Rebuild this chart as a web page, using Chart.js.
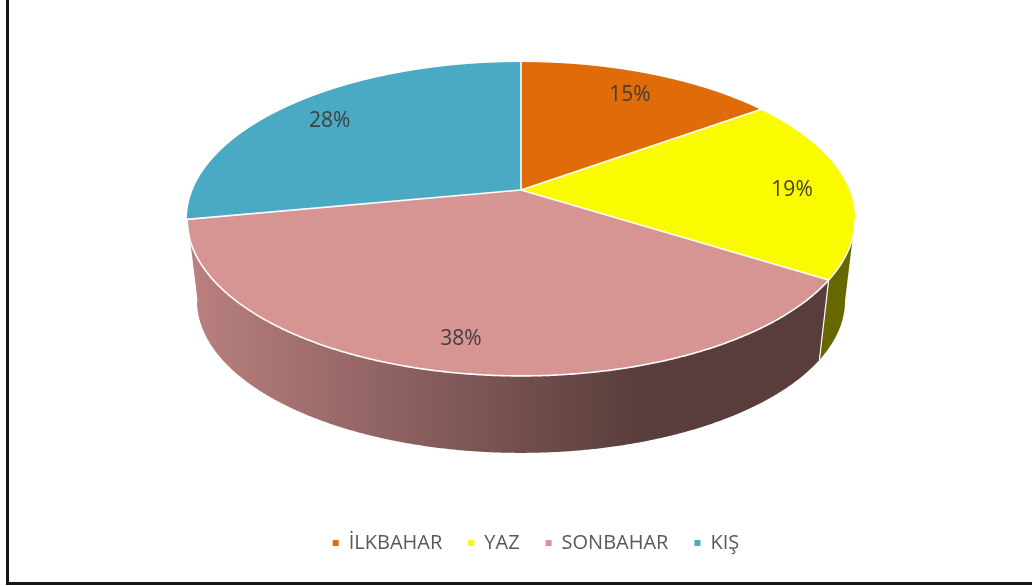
<!DOCTYPE html>
<html><head><meta charset="utf-8">
<script src="https://cdn.jsdelivr.net/npm/chart.js@4.4.0/dist/chart.umd.min.js"></script>
<style>
html,body{margin:0;padding:0;background:#fff;overflow:hidden;width:1032px;height:586px;}
#frame{position:absolute;left:6px;top:-10px;width:1100px;height:595px;box-sizing:border-box;border:3px solid #161616;}
#c{position:absolute;left:0;top:0;}
</style></head><body>
<div id="frame"></div>
<canvas id="c" width="1032" height="586"></canvas>
<script>
// ---- data ----
const CATEGORIES = ['İLKBAHAR', 'YAZ', 'SONBAHAR', 'KIŞ'];
const VALUES = [15, 19, 38, 28];
const COLORS = ['#E06C09', '#FAFA00', '#D69492', '#4AA9C3'];

// ---- 3D view (ratios relative to half the chart-area height) ----
const VIEW = { ka: 1.4755, kb: 0.6813, tilt: 0.1847, kd: 0.3712, baseScale: 0.97, labelR: 0.83, labelDrop: 4 };

function shade(col, f) {
  let r, g, b;
  if (col[0] === '#') {
    const n = parseInt(col.slice(1), 16);
    r = n >> 16 & 255; g = n >> 8 & 255; b = n & 255;
  } else {
    const m = col.match(/\d+(\.\d+)?/g).map(Number);
    [r, g, b] = m;
  }
  return `rgb(${Math.round(r * f)},${Math.round(g * f)},${Math.round(b * f)})`;
}

const pie3d = {
  id: 'pie3d',
  beforeDatasetsDraw(chart) {
    const ctx = chart.ctx;
    const arcs = chart.getDatasetMeta(0).data;
    if (!arcs.length) return false;
    const dpr = chart.currentDevicePixelRatio || 1;
    const area = chart.chartArea;
    const H2 = (area.bottom - area.top) / 2;
    const a = VIEW.ka * H2, b = VIEW.kb * H2, c = VIEW.tilt, D = VIEW.kd * H2, s = VIEW.baseScale;
    const ox = arcs[0].x, oy = arcs[0].y, R = arcs[0].outerRadius;
    const cx = ox, cy = area.top + b / (1 + c);
    const P = (t, r = 1) => {
      const u = r * Math.cos(t), v = r * Math.sin(t), w = 1 - c * v;
      return { x: cx + a * u / w, y: cy + b * v / w };
    };
    const Pb = t => {
      const p = P(t);
      return { x: cx + s * (p.x - cx), y: cy + D + s * (p.y - cy) };
    };
    const t1 = Math.asin(c), t2 = Math.PI - Math.asin(c);
    const aExt = a / Math.sqrt(1 - c * c);

    // side walls
    arcs.forEach(el => {
      const s0 = Math.max(el.startAngle, t1), s1 = Math.min(el.endAngle, t2);
      if (s1 <= s0) return;
      const n = Math.max(4, Math.ceil((s1 - s0) / 0.005));
      ctx.beginPath();
      for (let k = 0; k <= n; k++) { const p = P(s0 + (s1 - s0) * k / n); k ? ctx.lineTo(p.x, p.y) : ctx.moveTo(p.x, p.y); }
      for (let k = n; k >= 0; k--) { const p = Pb(s0 + (s1 - s0) * k / n); ctx.lineTo(p.x, p.y); }
      ctx.closePath();
      const col = el.options.backgroundColor;
      const g = ctx.createLinearGradient(cx - aExt, 0, cx + aExt, 0);
      g.addColorStop(0, shade(col, 0.87));
      g.addColorStop(0.68, shade(col, 0.41));
      g.addColorStop(1, shade(col, 0.41));
      ctx.fillStyle = g;
      ctx.fill();
    });

    // top face: library arcs drawn row by row through a perspective mapping
    const yTop = cy - b / (1 + c), yBot = cy + b / (1 - c);
    for (let Y = Math.floor(yTop) - 1; Y <= Math.ceil(yBot) + 1; Y++) {
      const Ym = Y + 0.5, d = Ym - cy;
      const v = d / (b + c * d);
      if (v < -1.05 || v > 1.05) continue;
      const w = 1 - c * v;
      const sx = a / (w * R), sy = b / (w * w * R);
      ctx.save();
      ctx.beginPath(); ctx.rect(0, Y, chart.width, 1); ctx.clip();
      ctx.setTransform(dpr * sx, 0, 0, dpr * sy, dpr * (cx - sx * ox), dpr * (Ym - sy * (oy + v * R)));
      arcs.forEach(el => el.draw(ctx));
      ctx.restore();
    }

    // white borders
    ctx.save();
    ctx.strokeStyle = '#ffffff';
    ctx.lineWidth = 1.6;
    ctx.lineJoin = 'round';
    ctx.beginPath();
    const nf = 400;
    for (let k = 0; k <= nf; k++) { const p = P(t1 + (t2 - t1) * k / nf); k ? ctx.lineTo(p.x, p.y) : ctx.moveTo(p.x, p.y); }
    ctx.stroke();
    arcs.forEach(el => {
      const t = el.startAngle;
      const p = P(t);
      ctx.beginPath(); ctx.moveTo(cx, cy); ctx.lineTo(p.x, p.y); ctx.stroke();
      if (t > t1 && t < t2) {
        const q = Pb(t);
        ctx.lineWidth = 1.2;
        ctx.beginPath(); ctx.moveTo(p.x, p.y); ctx.lineTo(q.x, q.y); ctx.stroke();
        ctx.lineWidth = 1.6;
      }
    });
    ctx.restore();

    // data labels
    const data = chart.data.datasets[0].data;
    const total = data.reduce((x, y) => x + y, 0);
    ctx.save();
    ctx.font = '21px "Open Sans"';
    ctx.fillStyle = '#404040';
    ctx.textAlign = 'center';
    ctx.textBaseline = 'middle';
    arcs.forEach((el, i) => {
      const mid = (el.startAngle + el.endAngle) / 2;
      const p = P(mid, VIEW.labelR);
      ctx.fillText(Math.round(data[i] / total * 100) + '%', p.x, p.y + VIEW.labelDrop);
    });
    ctx.restore();
    return false;
  }
};

new Chart(document.getElementById('c'), {
  type: 'pie',
  data: {
    labels: CATEGORIES,
    datasets: [{ data: VALUES, backgroundColor: COLORS, borderWidth: 0, hoverOffset: 0 }]
  },
  options: {
    responsive: false,
    animation: false,
    events: [],
    layout: { padding: { left: 40, right: 0, top: 62, bottom: 23 } },
    plugins: {
      tooltip: { enabled: false },
      title: { display: true, text: ' ', position: 'right', fullSize: false, font: { size: 10, lineHeight: 1.2 }, padding: { top: 9, bottom: 9 } },
      legend: {
        position: 'bottom',
        labels: {
          boxWidth: 6, boxHeight: 6, padding: 26,
          color: '#595959',
          font: { family: '"Open Sans"', size: 20 }
        }
      }
    }
  },
  plugins: [pie3d]
});
</script>
</body></html>
